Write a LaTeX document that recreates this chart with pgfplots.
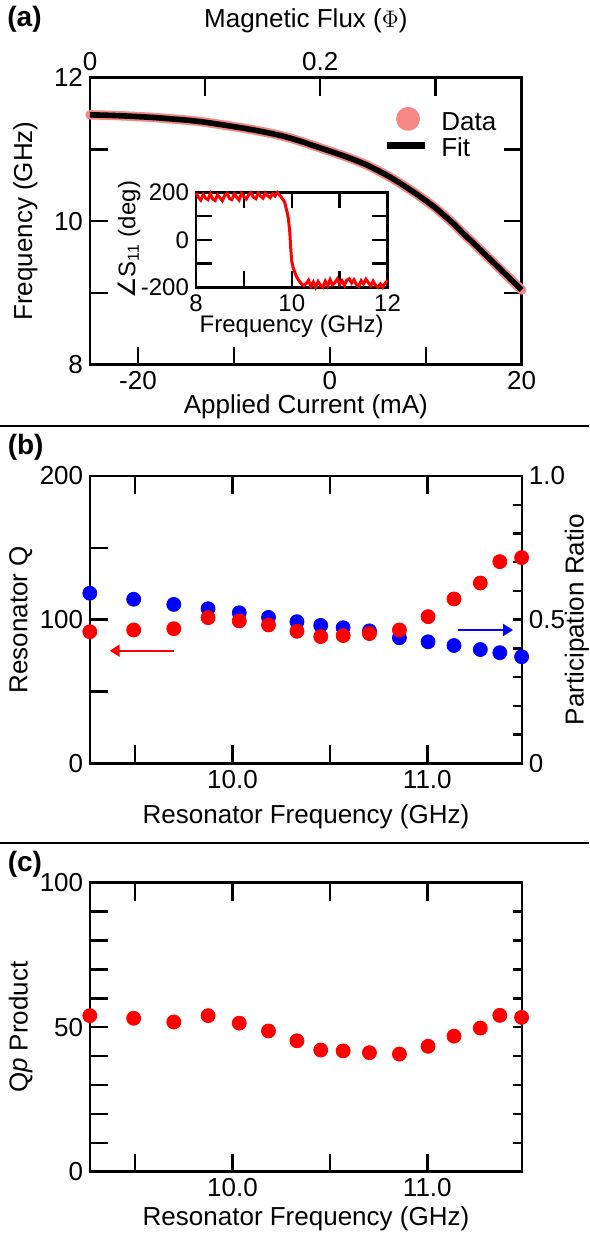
\documentclass[border=0pt]{standalone}
\usepackage{fontspec}
\setmainfont{Liberation Sans}
\newfontfamily\dejavu{DejaVu Sans}
\usepackage{pgfplots}
\pgfplotsset{compat=1.18}
\usepackage{pgfplotstable}
\usetikzlibrary{arrows.meta}

\definecolor{datapink}{RGB}{247,135,135}
\definecolor{pred}{RGB}{255,0,0}
\definecolor{pblue}{RGB}{0,0,255}

\newcommand\mainfs{\fontsize{13}{15.6}\selectfont}
\newcommand\insetfs{\fontsize{12}{14.4}\selectfont}

% (a) resonance frequency vs applied current
\pgfplotstableread{
I f
-25 11.480
-24 11.478
-23 11.474
-22 11.469
-21 11.463
-20 11.456
-19 11.449
-18 11.440
-17 11.430
-16 11.419
-15 11.408
-14 11.394
-13 11.378
-12 11.358
-11 11.338
-10 11.316
-9 11.295
-8 11.272
-7 11.246
-6 11.218
-5 11.188
-4 11.152
-3 11.110
-2 11.065
-1 11.020
0 10.975
1 10.930
2 10.882
3 10.830
4 10.773
5 10.705
6 10.635
7 10.555
8 10.470
9 10.380
10 10.285
11 10.185
12 10.070
13 9.950
14 9.815
15 9.690
16 9.560
17 9.430
18 9.300
19 9.170
20 9.040
}\fluxdata

% inset: reflection phase
\pgfplotstableread{
f phase
8.00 198
8.05 180
8.10 168
8.15 192
8.20 176
8.25 170
8.30 195
8.35 172
8.40 166
8.45 190
8.50 178
8.55 165
8.60 188
8.65 196
8.70 174
8.75 170
8.80 194
8.85 180
8.90 168
8.95 196
9.00 182
9.05 172
9.10 190
9.15 199
9.20 180
9.25 174
9.30 197
9.35 184
9.40 176
9.45 198
9.50 186
9.55 178
9.60 194
9.65 185
9.70 200
9.75 188
9.80 175
9.85 160
9.90 120
9.93 90
9.96 30
9.98 -40
10.00 -90
10.03 -118
10.07 -140
10.10 -155
10.15 -172
10.20 -185
10.25 -193
10.30 -185
10.35 -170
10.40 -196
10.45 -178
10.50 -200
10.55 -176
10.60 -192
10.65 -200
10.70 -174
10.75 -194
10.80 -168
10.85 -190
10.90 -180
10.95 -165
11.00 -186
11.05 -172
11.10 -192
11.15 -170
11.20 -164
11.25 -182
11.30 -168
11.35 -188
11.40 -196
11.45 -172
11.50 -186
11.55 -166
11.60 -180
11.65 -194
11.70 -174
11.75 -192
11.80 -200
11.85 -186
11.90 -200
11.95 -182
12.00 -172
}\phasedata

% (b),(c) resonator Q, participation ratio, product
\pgfplotstableread{
f Q p Qp
9.268 91.6 0.592 54.0
9.493 92.8 0.571 53.1
9.699 93.7 0.553 51.8
9.875 101.4 0.538 54.0
10.035 99.1 0.524 51.4
10.185 96.3 0.508 48.7
10.331 91.9 0.493 45.3
10.453 88.2 0.480 42.1
10.568 88.9 0.472 41.8
10.703 90.3 0.461 41.2
10.857 92.8 0.437 40.7
11.004 102.1 0.423 43.4
11.137 114.4 0.410 46.9
11.272 125.5 0.396 49.7
11.372 140.4 0.385 54.1
11.484 143.2 0.371 53.4
}\resdata

\pgfplotsset{
  every axis/.append style={
    scale only axis, clip=false, font=\mainfs,
    tick align=inside, major tick length=9pt,
    axis line style={line width=1.3pt},
    every tick/.style={black, line width=1.2pt},
    tick label style={font=\mainfs},
    label style={font=\mainfs},
  },
  every axis x label/.style={at={(rel axis cs:0.5,0)}, anchor=center},
  every axis y label/.style={at={(rel axis cs:0,0.5)}, rotate=90, anchor=center},
}

\begin{document}
\begin{tikzpicture}
\useasboundingbox (0,0) rectangle (294.5pt,-617pt);

\draw[line width=1pt] (0,-213pt) -- (294.5pt,-213pt);
\draw[line width=1pt] (0,-421.35pt) -- (294.5pt,-421.35pt);

\node[anchor=west, inner sep=0pt, font=\bfseries\fontsize{14}{16}\selectfont] at (3.5pt,-9.5pt) {(a)};
\node[anchor=west, inner sep=0pt, font=\bfseries\fontsize{14}{16}\selectfont] at (3.7pt,-223.5pt) {(b)};
\node[anchor=west, inner sep=0pt, font=\bfseries\fontsize{14}{16}\selectfont] at (3.7pt,-432pt) {(c)};

% ---------- (a) top flux axis
\begin{axis}[at={(45pt,-182.3pt)}, anchor=south west,
  width=215.85pt, height=143.5pt,
  xmin=0, xmax=0.375, ymin=8, ymax=12,
  axis x line*=top, axis y line=none,
  xtick={0,0.1,0.2,0.3}, xticklabels={0,,0.2,},
  xlabel={Magnetic Flux ($\Phi$)},
  every axis x label/.style={at={(rel axis cs:0.5,1)}, yshift=28.4pt, anchor=center},
]
\end{axis}

% ---------- (a) main axis
\begin{axis}[at={(45pt,-182.3pt)}, anchor=south west,
  width=215.85pt, height=143.5pt,
  xmin=-25, xmax=20, ymin=8, ymax=12,
  xtick={-20,-10,0,10,20}, xticklabels={-20,,0,,20}, xtick pos=left,
  ytick={8,9,10,11,12}, yticklabels={8,,10,,12}, ytick pos=both,
  xlabel={Applied Current (mA)}, ylabel={Frequency (GHz)},
  every axis x label/.style={at={(rel axis cs:0.5,0)}, yshift=-21pt, anchor=center},
  every axis y label/.style={at={(rel axis cs:0,0.5)}, xshift=-32.3pt, rotate=90, anchor=center},
  legend cell align=left,
  legend style={at={(rel axis cs:0.679,0.899)}, anchor=north west, draw=none, fill=none,
    inner sep=0pt, column sep=6pt, font=\mainfs,
    nodes={inner sep=0pt, text height=9.4pt, text depth=3.9pt}},
]
\addplot[datapink, line width=4.7pt, line cap=round, line join=round,
  legend image code/.code={\path[draw=none] (0pt,3pt) -- (21.3pt,3pt);
    \fill[datapink] (10.65pt,3pt) circle (3.6pt);}]
  table[x=I, y=f] {\fluxdata};
\addlegendentry{Data}
\addplot[black, line width=2.8pt, smooth,
  legend image code/.code={\path[draw=none] (0pt,3pt) -- (21.3pt,3pt);
    \draw[black, line width=3.2pt] (0pt,3pt) -- (19pt,3pt);}]
  table[x=I, y=f] {\fluxdata};
\addlegendentry{Fit}
\end{axis}

% ---------- (a) inset
\begin{axis}[at={(98pt,-143.65pt)}, anchor=south west,
  width=95.75pt, height=47.4pt, font=\insetfs,
  tick label style={font=\insetfs}, label style={font=\insetfs},
  major tick length=8pt,
  xmin=8, xmax=12, ymin=-200, ymax=200,
  xtick={8,9,10,11,12}, xticklabels={8,,10,,12},
  ytick={-200,-100,0,100,200}, yticklabels={-200,,0,,200},
  xlabel={Frequency (GHz)},
  ylabel={{\dejavu ∠}S\textsubscript{11} (deg)},
  every axis x label/.style={at={(rel axis cs:0.5,0)}, yshift=-19.7pt, anchor=center},
  every axis y label/.style={at={(rel axis cs:0,0.5)}, xshift=-33.5pt, rotate=90, anchor=center},
]
\addplot[pred, line width=1.5pt] table[x=f, y=phase] {\phasedata};
\end{axis}

% ---------- (b) frame and left axis
\begin{axis}[at={(45.1pt,-381.65pt)}, anchor=south west,
  width=215.8pt, height=143.65pt,
  xmin=9.27, xmax=11.485, ymin=0, ymax=200,
  xtick={9.5,10,10.5,11}, xticklabels={,10.0,,11.0}, xtick pos=both,
  ytick={0,50,100,150,200}, yticklabels={0,,100,,200}, ytick pos=left,
  xlabel={Resonator Frequency (GHz)}, ylabel={Resonator Q},
  every axis x label/.style={at={(rel axis cs:0.5,0)}, yshift=-26.7pt, anchor=center},
  every axis y label/.style={at={(rel axis cs:0,0.5)}, xshift=-34.7pt, rotate=90, anchor=center},
]
\end{axis}

% ---------- (b) right axis: participation ratio
\begin{axis}[at={(45.1pt,-381.65pt)}, anchor=south west,
  width=215.8pt, height=143.65pt,
  xmin=9.27, xmax=11.485, ymin=0, ymax=1,
  axis x line=none, axis y line*=right,
  major tick length=4.5pt,
  ytick={0,0.1,0.2,0.3,0.4,0.5,0.6,0.7,0.8,0.9,1},
  yticklabels={0,,,,,0.5,,,,,1.0},
  ylabel={Participation Ratio},
  every axis y label/.style={at={(rel axis cs:1,0.5)}, xshift=27.6pt, rotate=90, anchor=center},
]
\addplot[only marks, mark=*, mark size=3.5pt, color=pblue] table[x=f, y=p] {\resdata};
\draw[pblue, line width=1pt, -{Triangle[length=5pt, width=6pt]}]
  (axis cs:11.16,0.464) -- (axis cs:11.44,0.464);
\end{axis}

% ---------- (b) resonator Q points
\begin{axis}[at={(45.1pt,-381.65pt)}, anchor=south west,
  width=215.8pt, height=143.65pt,
  xmin=9.27, xmax=11.485, ymin=0, ymax=200, hide axis,
]
\addplot[only marks, mark=*, mark size=3.5pt, color=pred] table[x=f, y=Q] {\resdata};
\draw[pred, line width=1pt, -{Triangle[length=5pt, width=6pt]}]
  (axis cs:9.70,78.4) -- (axis cs:9.37,78.4);
\end{axis}

% ---------- (c) right ticks
\begin{axis}[at={(45.1pt,-585.85pt)}, anchor=south west,
  width=215.8pt, height=144.5pt,
  xmin=9.27, xmax=11.485, ymin=0, ymax=100,
  axis x line=none, axis y line*=right,
  major tick length=4.5pt,
  ytick={0,10,...,100}, yticklabels={},
]
\end{axis}

% ---------- (c) Qp product
\begin{axis}[at={(45.1pt,-585.85pt)}, anchor=south west,
  width=215.8pt, height=144.5pt,
  xmin=9.27, xmax=11.485, ymin=0, ymax=100,
  xtick={9.5,10,10.5,11}, xticklabels={,10.0,,11.0}, xtick pos=both,
  ytick={0,10,...,100}, yticklabels={0,,,,,50,,,,,100}, ytick pos=left,
  xlabel={Resonator Frequency (GHz)}, ylabel={Q\textit{p} Product},
  every axis x label/.style={at={(rel axis cs:0.5,0)}, yshift=-23.7pt, anchor=center},
  every axis y label/.style={at={(rel axis cs:0,0.5)}, xshift=-34.7pt, rotate=90, anchor=center},
]
\addplot[only marks, mark=*, mark size=3.5pt, color=pred] table[x=f, y=Qp] {\resdata};
\end{axis}
\end{tikzpicture}
\end{document}
